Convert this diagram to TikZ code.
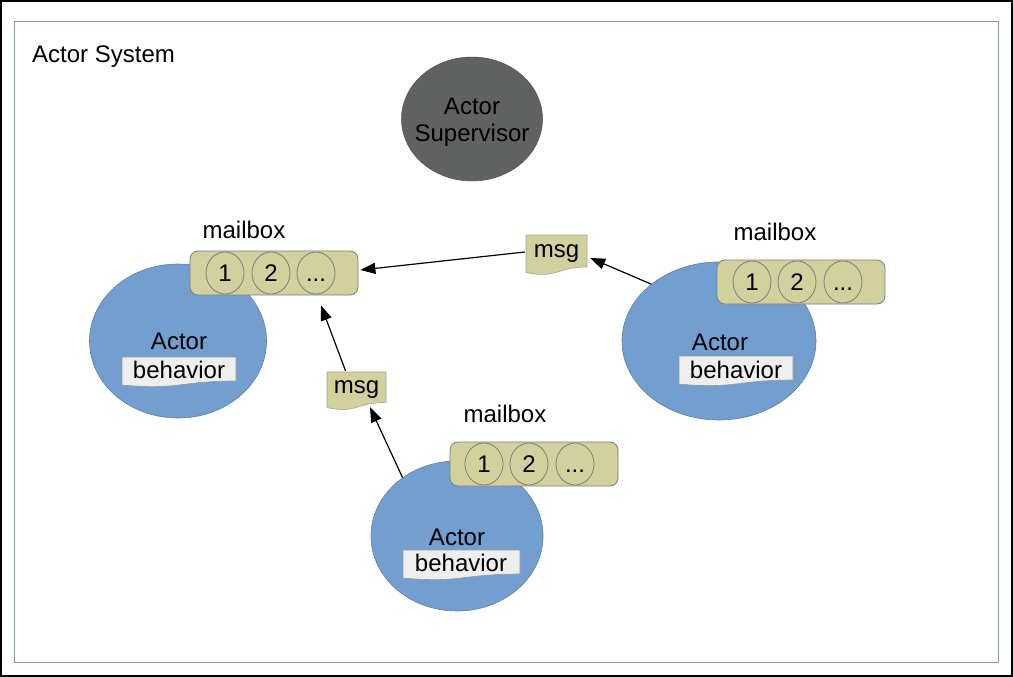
\documentclass[tikz,border=0pt]{standalone}
\usepackage{fontspec}
\setmainfont{Liberation Sans}
\usetikzlibrary{shapes.geometric,arrows.meta,calc}
\definecolor{actorblue}{HTML}{729FCF}
\definecolor{actorline}{HTML}{5F7F9F}
\definecolor{khaki}{HTML}{D2D09C}
\definecolor{slotline}{HTML}{7A8080}
\definecolor{supgray}{HTML}{606262}
\definecolor{framegray}{HTML}{8A9AA0}
\definecolor{behfill}{HTML}{EEEEEE}
\newcommand\mydoc[5]{%
  \path[#1] (#2,#3) -- ({#2+#4},#3) -- ({#2+#4},{#3+0.8*#5})
    .. controls ({#2+0.5*#4},{#3+0.8*#5}) and ({#2+0.5*#4},{#3+1.107*#5})
    .. (#2,{#3+0.934*#5}) -- cycle;}
\tikzset{
  txt/.style={inner sep=0pt, font=\fontsize{24}{28}\selectfont, text=black},
  actor/.style={ellipse, draw=actorline, line width=0.6pt, fill=actorblue, inner sep=0pt},
  mbox/.style={rectangle, rounded corners=8pt, draw=slotline, line width=0.8pt, fill=khaki, inner sep=0pt, minimum width=168pt, minimum height=44pt},
  slot/.style={ellipse, draw=slotline, line width=0.8pt, fill=khaki, inner sep=0pt, minimum width=38pt, minimum height=42pt, font=\fontsize{24}{28}\selectfont},
  behbox/.style={fill=behfill, draw=slotline!80, line width=0.6pt},
  msgbox/.style={fill=khaki, draw=slotline!70, line width=0.6pt},
  msgnode/.style={txt, minimum width=61pt, minimum height=38pt},
  arr/.style={line width=1.2pt, -{Triangle[length=15pt,width=11pt]}},
}
\begin{document}
\begin{tikzpicture}[x=1pt,y=-1pt]
\useasboundingbox (0,0) rectangle (1013,677);
\draw[line width=2pt] (1,1) rectangle (1012,676);
\draw[framegray, line width=1.2pt] (14.5,21.5) rectangle (998.5,662.5);
\node[txt, anchor=base west] (systitle) at (32,63) {Actor System};

% supervisor
\node[ellipse, fill=supgray, draw=supgray!80!black, line width=0.5pt, minimum width=141pt, minimum height=124pt] (sup) at (472,119) {};
\node[txt, anchor=base] (supa) at (472,114) {Actor};
\node[txt, anchor=base] (supb) at (472,142) {Supervisor};

% left actor
\node[actor, minimum width=177pt, minimum height=154pt] (lactor) at (178,341) {};
\mydoc{behbox}{122}{357}{114}{30}
\node[txt, anchor=base] (lacta) at (179,349) {Actor};
\node[txt, anchor=base] (lbeh) at (179,378) {behavior};
\node[mbox] (lmb) at (274,273) {};
\node[slot] (l1) at (225,273) {1};
\node[slot] (l2) at (271,273) {2};
\node[slot] (l3) at (316,273) {\vphantom{1}...};
\node[txt, anchor=base] (lmbl) at (244,238) {mailbox};

% right actor
\node[actor, minimum width=194pt, minimum height=158pt] (ractor) at (719,341) {};
\mydoc{behbox}{679}{356}{114}{30}
\node[txt, anchor=base] (racta) at (720,350) {Actor};
\node[txt, anchor=base] (rbeh) at (736,378) {behavior};
\node[mbox] (rmb) at (801,282) {};
\node[slot] (r1) at (752,282) {1};
\node[slot] (r2) at (797,282) {2};
\node[slot] (r3) at (843,282) {\vphantom{1}...};
\node[txt, anchor=base] (rmbl) at (775,240) {mailbox};

% bottom actor
\node[actor, minimum width=172pt, minimum height=150pt] (bactor) at (457,536) {};
\mydoc{behbox}{403}{550}{117}{30}
\node[txt, anchor=base] (bacta) at (457,545) {Actor};
\node[txt, anchor=base] (bbeh) at (461,571) {behavior};
\node[mbox] (bmb) at (534,464) {};
\node[slot] (b1) at (484,464) {1};
\node[slot] (b2) at (529,464) {2};
\node[slot] (b3) at (575,464) {\vphantom{1}...};
\node[txt, anchor=base] (bmbl) at (505,422) {mailbox};

% messages
\mydoc{msgbox}{526}{235}{61}{40}
\node[msgnode] (msg1) at (556.5,254) {msg};
\mydoc{msgbox}{327}{372}{59}{38}
\node[msgnode, minimum width=59pt] (msg2) at (356.5,390) {msg};

% arrows
\draw[arr] (ractor.140) -- ([xshift=3pt,yshift=-4pt]msg1.east);
\draw[arr] ([xshift=-1pt,yshift=2pt]msg1.west) -- ([xshift=2pt,yshift=3pt]lmb.east);
\draw[arr] (bactor.133) -- ([xshift=13.5pt,yshift=2pt]msg2.south);
\draw[arr] ([xshift=-11pt]msg2.north) -- ([xshift=47pt,yshift=-10pt]lmb.south);
\end{tikzpicture}
\end{document}
